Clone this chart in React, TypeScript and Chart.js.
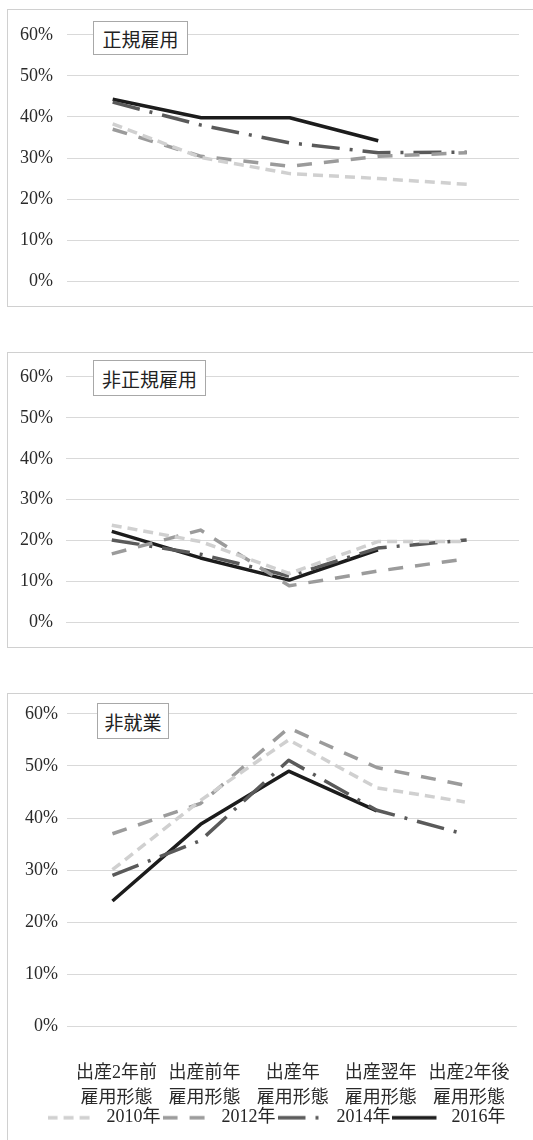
import React, { useEffect, useRef } from 'react';
import { Chart, registerables } from 'chart.js';

Chart.register(...registerables);

// ---- data ----
const categories: string[][] = [
  ['出産2年前', '雇用形態'],
  ['出産前年', '雇用形態'],
  ['出産年', '雇用形態'],
  ['出産翌年', '雇用形態'],
  ['出産2年後', '雇用形態'],
];
const seriesNames = ['2010年', '2012年', '2014年', '2016年'];
const yTickLabels = ['0%', '10%', '20%', '30%', '40%', '50%', '60%'];
const panelTitles = ['正規雇用', '非正規雇用', '非就業'];

const seiki2010 = [38.3, 30.1, 26.2, 25.0, 23.6];
const seiki2012 = [37.0, 30.4, 28.0, 30.4, 31.3];
const seiki2014 = [43.6, 38.0, 33.7, 31.3, 31.4];
const seiki2016 = [44.3, 39.8, 39.8, 34.2, null];

const hiseiki2010 = [23.8, 19.8, 12.0, 19.8, 19.8];
const hiseiki2012 = [16.8, 22.6, 9.0, 12.6, 15.6];
const hiseiki2014 = [20.2, 16.7, 11.4, 18.2, 20.2];
const hiseiki2016 = [22.3, 15.8, 10.4, 17.8, null];

const hishugyo2010 = [30.1, 43.4, 55.0, 45.8, 43.1];
const hishugyo2012 = [37.0, 42.8, 57.3, 49.7, 46.3];
const hishugyo2014 = [29.0, 35.7, 51.1, 41.5, 36.9];
const hishugyo2016 = [24.1, 38.8, 49.0, 41.4, null];

// ---- styles ----
const lineColors = ['#d0d0d0', '#9b9b9b', '#5a5a5a', '#1c1c1c'];
const lineDashes = [[10, 6], [15, 12], [28, 10, 3, 10], []];
const LINE_W = 3.5;
const FONT = "'Liberation Serif', 'Noto Sans CJK JP', serif";

// legend sample: 44px line inside a 50px box
function makeLegendSample(i: number): HTMLCanvasElement {
  const c = document.createElement('canvas');
  c.width = 50;
  c.height = 8;
  const g = c.getContext('2d')!;
  g.strokeStyle = lineColors[i];
  g.lineWidth = LINE_W;
  g.setLineDash(lineDashes[i]);
  g.beginPath();
  g.moveTo(0, 4);
  g.lineTo(44, 4);
  g.stroke();
  return c;
}

type PanelCfg = {
  title: string;
  series: (number | null)[][];
  top: number;
  height: number;
  canvasH: number;
  padTop: number;
  padBottom: number;
  yPad: number;
  chartLeft: number;
  showX: boolean;
  box: { left: number; top: number; width: number; height: number };
};

function Panel({ cfg }: { cfg: PanelCfg }) {
  const ref = useRef<HTMLCanvasElement | null>(null);
  useEffect(() => {
    if (!ref.current) return;
    const samples = seriesNames.map((_, i) => makeLegendSample(i));
    const datasets = cfg.series.map((vals, si) => ({
      label: seriesNames[si],
      data: vals.map((v, i) => ({ x: i, y: v })),
      borderColor: lineColors[si],
      backgroundColor: lineColors[si],
      borderDash: lineDashes[si],
      borderWidth: LINE_W,
      borderJoinStyle: 'round' as const,
      pointRadius: 0,
      tension: 0,
      fill: false,
      spanGaps: false,
    }));
    const xScale: any = {
      type: 'linear',
      display: cfg.showX,
      min: -0.516,
      max: 4.59,
      grid: { display: false },
      border: { display: false },
      ticks: {
        stepSize: 1,
        includeBounds: false,
        autoSkip: false,
        maxRotation: 0,
        padding: 26,
        labelOffset: 4,
        color: '#2a2a2a',
        font: { family: FONT, size: 18, lineHeight: 25 / 18 },
        callback: (v: any) => (Number.isInteger(v) && categories[v] ? categories[v] : ''),
      },
    };
    if (cfg.showX) {
      xScale.afterFit = (s: any) => {
        s.height = 80;
      };
    }
    const LEFT_PAD = 12;
    const chart = new Chart(ref.current, {
      type: 'line',
      data: { datasets },
      options: {
        animation: false,
        responsive: false,
        layout: { padding: { top: cfg.padTop, bottom: cfg.padBottom, left: LEFT_PAD, right: 0 } },
        plugins: {
          tooltip: { enabled: false },
          legend: {
            display: cfg.showX,
            position: 'bottom',
            labels: {
              usePointStyle: true,
              pointStyleWidth: 50,
              padding: 2,
              color: '#262626',
              font: { family: FONT, size: 18 },
              generateLabels: (c: any) => {
                const items = (Chart.defaults.plugins.legend.labels as any).generateLabels(c);
                items.forEach((it: any, i: number) => {
                  it.pointStyle = samples[i];
                  it.lineWidth = 0;
                });
                return items;
              },
            },
          },
        },
        scales: {
          x: xScale,
          y: {
            min: 0,
            max: 60,
            afterFit: (s: any) => {
              s.width = cfg.chartLeft - LEFT_PAD;
            },
            grid: { color: '#d9d9d9', lineWidth: 1, drawTicks: false },
            border: { display: false },
            ticks: {
              stepSize: 10,
              padding: cfg.yPad,
              color: '#2a2a2a',
              font: { family: FONT, size: 18 },
              callback: (v: any) => yTickLabels[Math.round(v / 10)],
            },
          },
          yRight: {
            position: 'right',
            display: true,
            afterFit: (s: any) => {
              s.width = 14;
            },
            grid: { display: false },
            border: { display: false },
            ticks: { display: false },
          },
        },
      },
    });
    return () => chart.destroy();
  }, [cfg]);

  return (
    <>
      <div
        style={{
          position: 'absolute',
          left: 7,
          top: cfg.top,
          width: 560,
          height: cfg.height,
          border: '1px solid #d0d0d0',
          boxSizing: 'border-box',
        }}
      >
        <canvas ref={ref} width={525} height={cfg.canvasH} style={{ display: 'block', width: 525, height: cfg.canvasH }} />
      </div>
      <div
        style={{
          position: 'absolute',
          left: cfg.box.left,
          top: cfg.box.top,
          width: cfg.box.width,
          height: cfg.box.height,
          boxSizing: 'border-box',
          border: '1px solid #a8a8a8',
          background: '#fff',
          fontFamily: FONT,
          fontSize: 19,
          color: '#222',
          display: 'flex',
          alignItems: 'center',
          justifyContent: 'center',
        }}
      >
        {cfg.title}
      </div>
    </>
  );
}

const panels: PanelCfg[] = [
  {
    title: panelTitles[0],
    series: [seiki2010, seiki2012, seiki2014, seiki2016],
    top: 9,
    height: 298,
    canvasH: 296,
    padTop: 19,
    padBottom: 24,
    yPad: 14,
    chartLeft: 59,
    showX: false,
    box: { left: 93, top: 21, width: 95, height: 34 },
  },
  {
    title: panelTitles[1],
    series: [hiseiki2010, hiseiki2012, hiseiki2014, hiseiki2016],
    top: 352,
    height: 296,
    canvasH: 294,
    padTop: 18.7,
    padBottom: 24.3,
    yPad: 13,
    chartLeft: 58,
    showX: false,
    box: { left: 93, top: 360, width: 113, height: 36 },
  },
  {
    title: panelTitles[2],
    series: [hishugyo2010, hishugyo2012, hishugyo2014, hishugyo2016],
    top: 693,
    height: 470,
    canvasH: 446,
    padTop: 19.3,
    padBottom: 3.3,
    yPad: 9,
    chartLeft: 59,
    showX: true,
    box: { left: 97, top: 703, width: 72, height: 36 },
  },
];

export default function App() {
  return (
    <div
      style={{
        position: 'absolute',
        left: 0,
        top: 0,
        width: 533,
        height: 1140,
        overflow: 'hidden',
        background: '#fff',
      }}
    >
      {panels.map((p, i) => (
        <Panel key={i} cfg={p} />
      ))}
    </div>
  );
}
